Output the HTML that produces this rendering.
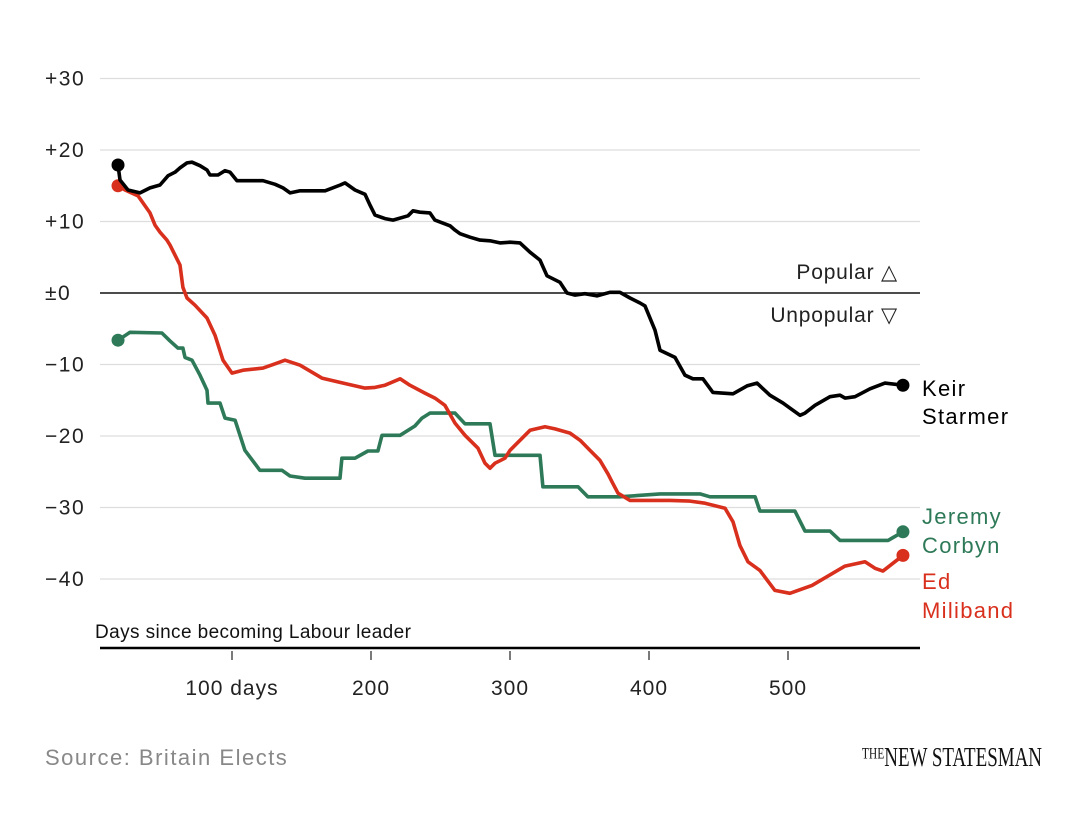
<!DOCTYPE html>
<html><head><meta charset="utf-8"><style>
body{margin:0;background:#fff;width:1088px;height:818px;overflow:hidden;font-family:"Liberation Sans",sans-serif}
svg text{font-family:"Liberation Sans",sans-serif}
</style></head><body>
<svg id="chart" width="1088" height="818" viewBox="0 0 1088 818" xmlns="http://www.w3.org/2000/svg">
<g id="grid"></g><g id="axes"></g><g id="lines"></g><g id="labels"></g>
<text x="95" y="638" font-size="19" fill="#111" letter-spacing="0.4">Days since becoming Labour leader</text>
<text x="898" y="279" font-size="21" fill="#222" text-anchor="end" letter-spacing="0.8">Popular △</text>
<text x="898" y="322" font-size="21" fill="#222" text-anchor="end" letter-spacing="0.8">Unpopular ▽</text>
<text x="45" y="765" font-size="22" fill="#888" letter-spacing="1.5">Source: Britain Elects</text>
<text x="1042" y="766" font-size="27" fill="#111" text-anchor="end" font-family="Liberation Serif" style="font-family:'Liberation Serif',serif" textLength="180" lengthAdjust="spacingAndGlyphs">ᵀᴴᴱNEW STATESMAN</text>
</svg>
<script>
const yTicks=[30,20,10,0,-10,-20,-30,-40];
const yTickLabels=["+30","+20","+10","±0","−10","−20","−30","−40"];
const xTicks=[100,200,300,400,500];
const xTickLabels=["100 days","200","300","400","500"];
const starmerDays=[18,19.4,25.2,33.8,41,48.2,54,59,62.6,67.6,71.2,77,82,84.2,89.9,95,98.6,103.6,113,122.3,131,136.7,141.8,149,156,167,177.9,181.3,188.5,195.7,199.3,202.9,210.1,215.8,226.6,230.2,235.2,242.4,246,256.8,260.4,264,271.2,278.4,285.6,292.8,300,307.2,314.4,321.6,326.6,336,341,346.8,353.9,362.6,371.9,379.1,386.3,393.5,397.1,404.3,407.9,418.7,425.9,431.6,438.8,446,460.4,470.5,477.7,487,496.4,501.4,508.6,512.2,519.4,530.2,537.4,541,548.2,559,569.8,582.7];
const starmerValues=[17.9,15.8,14.4,14.0,14.7,15.1,16.4,16.9,17.5,18.2,18.3,17.8,17.2,16.5,16.5,17.1,16.9,15.7,15.7,15.7,15.2,14.7,14.0,14.3,14.3,14.3,15.1,15.4,14.4,13.8,12.3,10.9,10.4,10.2,10.8,11.5,11.3,11.2,10.2,9.4,8.8,8.3,7.8,7.4,7.3,7.0,7.1,7.0,5.7,4.6,2.4,1.5,0,-0.3,-0.1,-0.4,0.1,0.1,-0.7,-1.4,-1.8,-5.2,-8.0,-9.0,-11.5,-12.0,-12.0,-13.9,-14.1,-13.0,-12.6,-14.3,-15.4,-16.1,-17.1,-16.8,-15.7,-14.5,-14.3,-14.7,-14.5,-13.4,-12.6,-12.9];
const milibandDays=[18,23,32.4,41,44.6,48.2,53.2,55.4,59,62.6,64.7,67.6,73.4,82,87.8,93.5,100,107.9,122.3,131,138.1,149,164.7,177.7,195.7,202.9,210.1,220.9,228,238.8,246,253.2,260.4,267.6,277,282,285.6,289.2,296.4,300,307.2,314.4,325.2,332.4,343.2,350.4,357.5,364.7,370.5,373.4,377.7,386.3,400.7,415.1,429.5,440.3,454.7,460.4,465.4,471.2,479.8,490.6,501.4,517.3,533.8,541,555.4,562.6,568.3,582.7];
const milibandValues=[15.0,14.4,13.6,11.2,9.5,8.5,7.4,6.7,5.3,3.9,0.8,-0.7,-1.7,-3.5,-5.9,-9.4,-11.2,-10.8,-10.5,-9.9,-9.4,-10.1,-11.9,-12.5,-13.3,-13.2,-12.9,-12.0,-12.9,-14.0,-14.7,-15.7,-18.2,-19.9,-21.7,-23.8,-24.5,-23.8,-23.1,-22.0,-20.6,-19.2,-18.7,-19.0,-19.6,-20.6,-22.0,-23.4,-25.3,-26.4,-28.0,-29.0,-29.0,-29.0,-29.1,-29.4,-30.1,-32.0,-35.3,-37.6,-38.8,-41.6,-42.0,-40.9,-39.0,-38.2,-37.6,-38.5,-38.9,-36.7];
const corbynDays=[18,26.6,49.6,55.4,61.1,64.7,66.2,71.2,77,82,82.7,91.4,95,102.2,109.3,120.1,136,141.7,152.5,177.7,179.1,188.5,197.8,205,207.9,220.9,231.6,236.7,242.4,260.4,267.6,285.6,289.2,321.6,323.7,348.9,356,379,408,436.7,443.9,476.3,479.8,505,512.2,530.2,537.4,572,582.7];
const corbynValues=[-6.6,-5.5,-5.6,-6.7,-7.7,-7.7,-9.0,-9.4,-11.5,-13.6,-15.4,-15.4,-17.5,-17.8,-22.0,-24.8,-24.8,-25.6,-25.9,-25.9,-23.1,-23.1,-22.1,-22.1,-19.9,-19.9,-18.6,-17.5,-16.8,-16.8,-18.3,-18.3,-22.7,-22.7,-27.1,-27.1,-28.5,-28.5,-28.1,-28.1,-28.5,-28.5,-30.5,-30.5,-33.3,-33.3,-34.6,-34.6,-33.4];

const NS="http://www.w3.org/2000/svg";
const X0=100,X1=920;
function xScale(d){return 93+d*1.39;}
function yScale(v){return 293-v*7.15;}
function mk(tag,attrs,parent){const e=document.createElementNS(NS,tag);for(const k in attrs)e.setAttribute(k,attrs[k]);parent.appendChild(e);return e;}
const grid=document.getElementById('grid'),axes=document.getElementById('axes'),lines=document.getElementById('lines'),labels=document.getElementById('labels');
yTicks.forEach((t,i)=>{
  const y=yScale(t);
  const g=mk('line',{x1:X0,x2:X1,y1:y,y2:y,stroke:t===0?'#111':'#ddd','stroke-width':t===0?1.5:1.3},grid);
  
  
  const tx=mk('text',{x:45,y:y+7,'font-size':21,fill:'#222','letter-spacing':1.5},axes);
  tx.textContent=yTickLabels[i];
  
  
});
const base=mk('line',{x1:X0,x2:X1,y1:648,y2:648,stroke:'#000','stroke-width':2.5},axes);


xTicks.forEach((t,i)=>{
  const x=xScale(t);
  const tk=mk('line',{x1:x,x2:x,y1:651,y2:660,stroke:'#333','stroke-width':1.3},axes);
  
  
  const tx=mk('text',{x:x,y:695,'font-size':21,fill:'#222','text-anchor':'middle','letter-spacing':1},axes);
  tx.textContent=xTickLabels[i];
  
  
});
function series(days,vals,color,name){
  const d=days.map((x,i)=>(i?'L':'M')+xScale(x).toFixed(1)+','+yScale(vals[i]).toFixed(1)).join('');
  const p=mk('path',{d:d,fill:'none',stroke:color,'stroke-width':3.6,'stroke-linejoin':'round'},lines);
  
  
  const c0=mk('circle',{cx:xScale(days[0]),cy:yScale(vals[0]),r:6.5,fill:color},lines);
  
  
  const n=days.length-1;
  const c1=mk('circle',{cx:xScale(days[n]),cy:yScale(vals[n]),r:6.5,fill:color},lines);
  
  
}
series(corbynDays,corbynValues,'#2e7a58','corbyn');
series(milibandDays,milibandValues,'#d9301e','miliband');
series(starmerDays,starmerValues,'#000','starmer');
function label(txt,y,color,name){
  const t=mk('text',{x:922,y:y,'font-size':22,fill:color,'letter-spacing':1.3},labels);
  t.textContent=txt;
  
  
}
label('Keir',396,'#000','starmer-label');label('Starmer',424,'#000','starmer-label-2');
label('Jeremy',524,'#2e7a58','corbyn-label');label('Corbyn',553,'#2e7a58','corbyn-label-2');
label('Ed',589,'#d9301e','miliband-label');label('Miliband',618,'#d9301e','miliband-label-2');
</script>
</body></html>
